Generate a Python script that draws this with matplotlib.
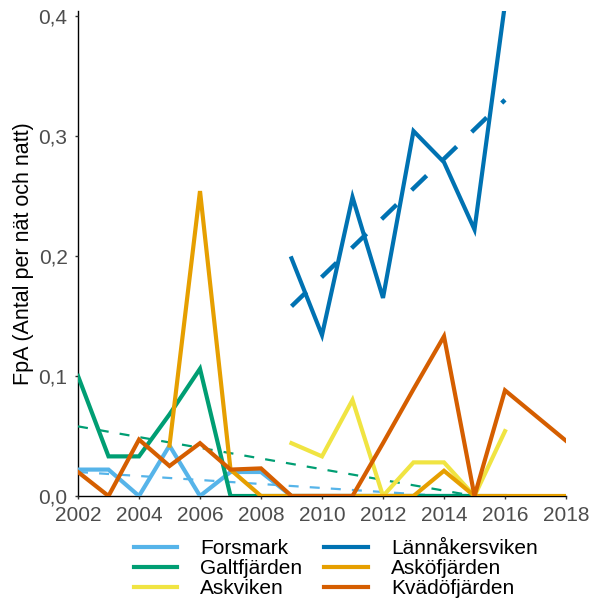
import numpy as np
import matplotlib
matplotlib.use("Agg")
import matplotlib.pyplot as plt

plt.rcParams['font.family'] = ['Liberation Sans', 'DejaVu Sans']

years = list(range(2002, 2019))
nan = np.nan

forsmark = [0.022, 0.022, 0.0, 0.042, 0.0, 0.020, 0.020, 0.0, 0.0, 0.0, 0.0, 0.0, 0.0, 0.0, 0.0, nan, nan]
galtfjarden = [0.100, 0.033, 0.033, 0.068, 0.106, 0.0, 0.0, 0.0, 0.0, 0.0, 0.0, 0.0, 0.0, 0.0, nan, nan, nan]
askviken = [nan, nan, nan, nan, nan, nan, nan, 0.044, 0.033, 0.080, 0.0, 0.028, 0.028, 0.0, 0.054, nan, nan]
lannakersviken = [nan, nan, nan, nan, nan, nan, nan, 0.198, 0.134, 0.249, 0.165, 0.304, 0.278, 0.222, 0.410, nan, nan]
askofjarden = [nan, nan, nan, 0.042, 0.254, 0.022, 0.0, 0.0, 0.0, 0.0, 0.0, 0.0, 0.021, 0.0, 0.0, 0.0, 0.0]
kvadofjarden = [0.020, 0.0, 0.047, 0.025, 0.044, 0.022, 0.023, 0.0, 0.0, 0.0, 0.044, 0.089, 0.133, 0.0, 0.088, 0.067, 0.046]

# trend lines (start/end year, start/end value)
trend_forsmark = ([2002, 2014], [0.020, 0.000])
trend_galt = ([2002, 2015], [0.058, 0.000])
trend_lannakers = ([2009, 2016], [0.158, 0.330])

names = ["Forsmark", "Galtfjärden", "Askviken", "Lännåkersviken", "Asköfjärden", "Kvädöfjärden"]
colors = ["#56B4E9", "#009E73", "#F0E442", "#0072B2", "#E69F00", "#D55E00"]
series = [forsmark, galtfjarden, askviken, lannakersviken, askofjarden, kvadofjarden]

fig = plt.figure(figsize=(5.90, 6.01), dpi=100)
ax = fig.add_axes([78/590, 105/601, 488/590, 485/601])

# trends
ax.plot(*trend_forsmark, color="#56B4E9", lw=1.6, dashes=(4.5, 5), zorder=2)
ax.plot(*trend_galt, color="#009E73", lw=1.6, dashes=(4.5, 5), zorder=2)
ax.plot(*trend_lannakers, color="#0072B2", lw=3.2, dashes=(4.7, 4.7), zorder=2)

lines = []
for name, col, vals in zip(names, colors, series):
    l, = ax.plot(years, vals, color=col, lw=3.0, label=name, zorder=3,
                 solid_joinstyle='miter')
    lines.append(l)

ax.set_xlim(2002, 2018)
ax.set_ylim(0, 0.404)
ax.set_xticks(range(2002, 2019, 2))
ax.set_yticks([0.0, 0.1, 0.2, 0.3, 0.4])
ax.set_yticklabels(["0,0", "0,1", "0,2", "0,3", "0,4"])

for s in ["top", "right"]:
    ax.spines[s].set_visible(False)
for s in ["left", "bottom"]:
    ax.spines[s].set_linewidth(1.0)
    ax.spines[s].set_color("black")
    ax.spines[s].set_zorder(1)

ax.tick_params(axis="both", labelsize=15, labelcolor="#4D4D4D", length=2.5,
               width=1.0, color="#333333", pad=5)
ax.set_ylabel("FpA (Antal per nät och natt)", fontsize=15.5, labelpad=3)

fig.legend(handles=lines, labels=names, ncol=2, loc="center",
           bbox_to_anchor=(0.569, 0.054), frameon=False, fontsize=15,
           handlelength=2.1, handletextpad=1.1, columnspacing=1.05,
           labelspacing=0.05, borderpad=0, borderaxespad=0)

fig.savefig("out.png", dpi=100)
